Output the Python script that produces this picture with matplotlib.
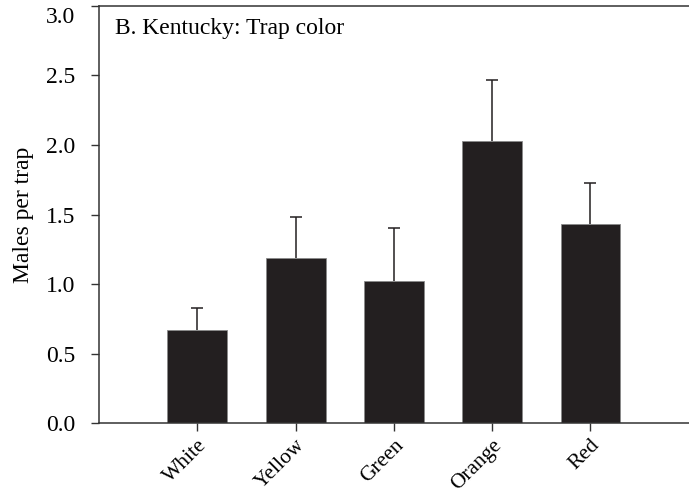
import matplotlib.pyplot as plt
import matplotlib.transforms as mtransforms
import numpy as np

colors = ['White', 'Yellow', 'Green', 'Orange', 'Red']
males = [0.67, 1.19, 1.02, 2.03, 1.43]
upper_err = [0.155, 0.29, 0.38, 0.44, 0.30]

plt.rcParams['font.family'] = ['Liberation Serif', 'DejaVu Serif']

fig = plt.figure(figsize=(6.89, 4.96), dpi=100)
ax = fig.add_axes([0.1437, 0.147, 0.856, 0.841])

x = np.arange(len(colors))
ax.bar(x, males, width=0.61, color='#231f20', edgecolor='#8a8a8a', linewidth=0.6,
       zorder=2)
eb = ax.errorbar(x, males, yerr=[np.zeros(len(males)), upper_err], fmt='none',
                 ecolor='#231f20', elinewidth=1.1, capsize=4.6, capthick=1.1, zorder=3)
eb[1][0].set_visible(False)  # no cap at the bar top

ax.set_xlim(-1, 5)
ax.set_ylim(0, 3.0)
yt = np.arange(0, 3.01, 0.5)
ax.set_yticks(yt)
ax.set_yticklabels([f'{v:.1f}' for v in yt], fontsize=17)
ax.set_xticks(x)
ax.set_xticklabels(colors, rotation=45, ha='right', rotation_mode='anchor', fontsize=15.5)
ax.tick_params(axis='both', direction='out', length=6, width=1, color='#333333')
ax.tick_params(axis='y', pad=11)
ax.tick_params(axis='x', pad=3)
ax.set_ylabel('Males per trap', fontsize=17, labelpad=9)

# top tick label sits a bit lower so it stays inside the figure
top_lab = ax.get_yticklabels()[-1]
top_lab.set_transform(top_lab.get_transform() +
                      mtransforms.ScaledTranslation(0, -9 / 100, fig.dpi_scale_trans))

for s in ['left', 'top', 'bottom']:
    ax.spines[s].set_color('#333333')
    ax.spines[s].set_linewidth(1.1)
ax.spines['right'].set_visible(False)

ax.text(0.027, 0.947, 'B. Kentucky: Trap color', transform=ax.transAxes,
        fontsize=17, ha='left', va='center')

fig.savefig('out.png', dpi=100)
